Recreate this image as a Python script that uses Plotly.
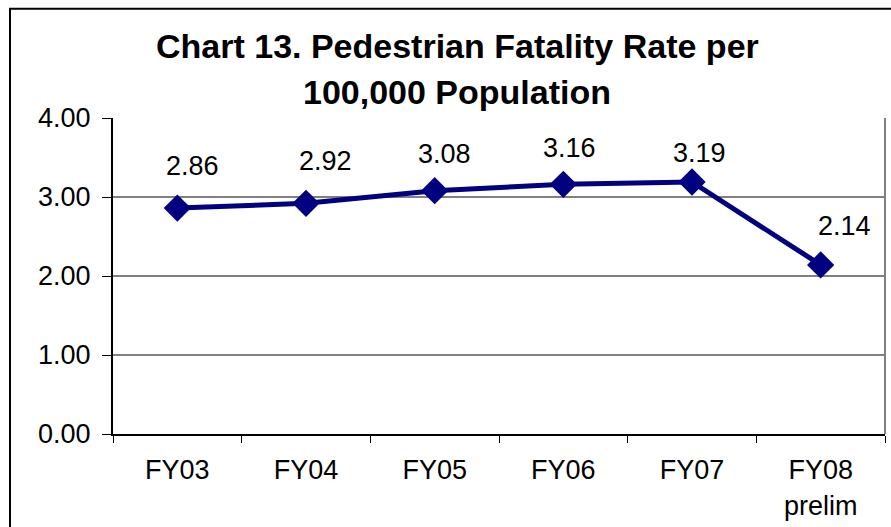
import plotly.graph_objects as go

# Fiscal years and pedestrian fatality rate per 100,000 population
years = ["FY03", "FY04", "FY05", "FY06", "FY07", "FY08<br>prelim"]
rates = [2.86, 2.92, 3.08, 3.16, 3.19, 2.14]
value_labels = ["2.86", "2.92", "3.08", "3.16", "3.19", "2.14"]
title_lines = ["Chart 13. Pedestrian Fatality Rate per", "100,000 Population"]

# Label placement relative to each marker (pixels)
label_dx = [15, 19, 10, 6, 7, 24]
label_dy = [42, 42, 37, 36, 29, 39]

FONT = "Liberation Sans, Arial, sans-serif"
NAVY = "#000080"
GRID = "#808080"

fig = go.Figure()
fig.add_trace(go.Scatter(
    x=years, y=rates, mode="lines+markers",
    line=dict(color=NAVY, width=5),
    marker=dict(symbol="diamond", size=21, color=NAVY),
    hoverinfo="x+y", showlegend=False,
))

for x, y, t, dx, dy in zip(years, rates, value_labels, label_dx, label_dy):
    fig.add_annotation(x=x, y=y, text=t, showarrow=False,
                       xshift=dx, yshift=dy,
                       font=dict(family=FONT, size=27, color="black"))

# Two-line bold chart title, centred on the outer frame
for line, ypos in zip(title_lines, [1.228, 1.083]):
    fig.add_annotation(x=0.4456, y=ypos, xref="paper", yref="paper",
                       text="<b>%s</b>" % line, showarrow=False,
                       xanchor="center", yanchor="middle",
                       font=dict(family=FONT, size=34, color="black"))

# Outer chart frame (runs past the right and bottom edges of the page)
fig.add_shape(type="rect", xref="paper", yref="paper",
              x0=-0.1334, x1=1.03, y0=-0.33, y1=1.3459,
              line=dict(color="black", width=2), layer="below")
# Plot area border on the right side
fig.add_shape(type="line", xref="paper", yref="paper",
              x0=1, x1=1, y0=0, y1=1,
              line=dict(color=GRID, width=2))

fig.update_layout(
    width=891, height=527,
    margin=dict(l=113, r=6, t=118, b=91),
    paper_bgcolor="white", plot_bgcolor="white",
    xaxis=dict(
        type="category", range=[-0.5, 5.5],
        showline=True, linecolor="black", linewidth=2,
        ticks="outside", tickson="boundaries", ticklen=7,
        tickcolor="black", tickwidth=1,
        showgrid=False, zeroline=False,
        tickfont=dict(family=FONT, size=27, color="black"),
        ticklabelstandoff=11,
    ),
    yaxis=dict(
        range=[0, 4], dtick=1, tickformat=".2f",
        showline=True, linecolor="black", linewidth=2,
        ticks="outside", ticklen=9, tickcolor="black", tickwidth=1,
        showgrid=True, gridcolor=GRID, gridwidth=1.5, zeroline=False,
        tickfont=dict(family=FONT, size=27, color="black"),
        ticklabelstandoff=6,
    ),
)

fig.write_html("out.html")
